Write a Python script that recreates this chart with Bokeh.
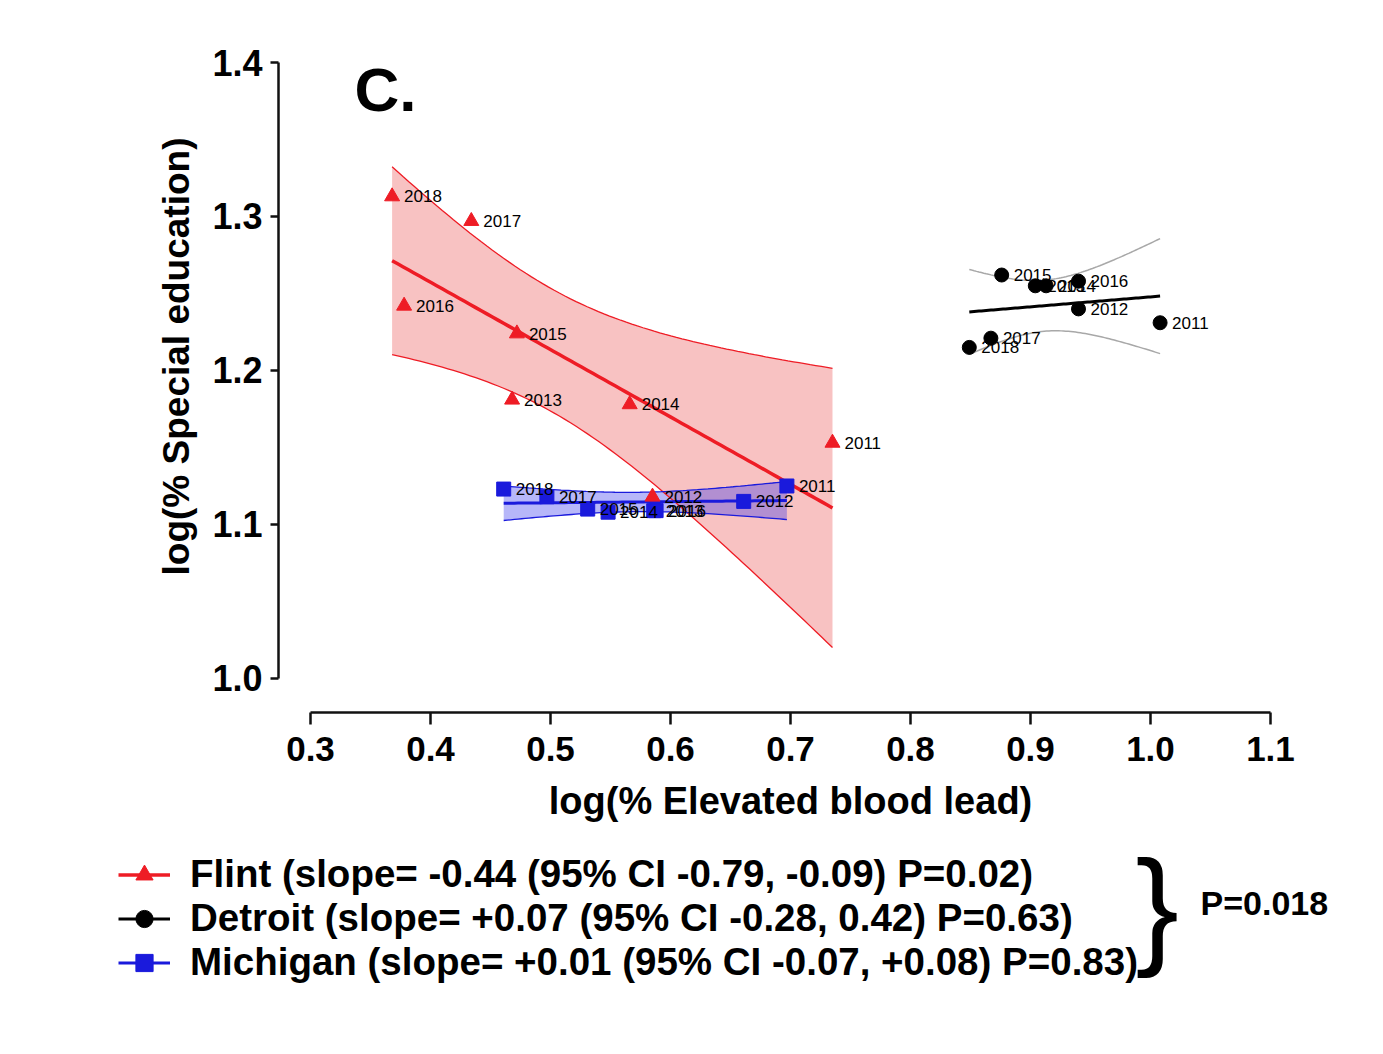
import numpy as np
from bokeh.plotting import figure
from bokeh.layouts import column
from bokeh.models import (Range1d, FixedTicker, NumeralTickFormatter, Label,
                          Legend, LegendItem)
from bokeh.core.properties import value
from bokeh.embed import file_html
from bokeh.resources import INLINE

# ---------------- data ----------------
years = ["2011", "2012", "2013", "2014", "2015", "2016", "2017", "2018"]

flint_x = [0.735, 0.585, 0.468, 0.566, 0.472, 0.378, 0.434, 0.368]
flint_y = [1.153, 1.118, 1.181, 1.178, 1.224, 1.242, 1.297, 1.313]

detroit_x = [1.008, 0.940, 0.904, 0.913, 0.876, 0.940, 0.867, 0.849]
detroit_y = [1.231, 1.240, 1.255, 1.255, 1.262, 1.258, 1.221, 1.215]

michigan_x = [0.697, 0.661, 0.586, 0.548, 0.531, 0.588, 0.497, 0.461]
michigan_y = [1.125, 1.115, 1.109, 1.108, 1.110, 1.109, 1.118, 1.123]

x_ticks = [0.3, 0.4, 0.5, 0.6, 0.7, 0.8, 0.9, 1.0, 1.1]
y_ticks = [1.0, 1.1, 1.2, 1.3, 1.4]

legend_labels = [
    "Flint (slope= -0.44 (95% CI -0.79, -0.09) P=0.02)",
    "Detroit (slope= +0.07 (95% CI -0.28, 0.42) P=0.63)",
    "Michigan (slope= +0.01 (95% CI -0.07, +0.08) P=0.83)",
]
panel_letter = "C."
diff_p = "P=0.018"
T_975_DF6 = 2.447


def fit_band(x, y, n=80):
    x = np.asarray(x, float)
    y = np.asarray(y, float)
    b, a = np.polyfit(x, y, 1)
    xs = np.linspace(x.min(), x.max(), n)
    yhat = a + b * xs
    res = y - (a + b * x)
    s = np.sqrt(np.sum(res ** 2) / (len(x) - 2))
    se = s * np.sqrt(1.0 / len(x) + (xs - x.mean()) ** 2 / np.sum((x - x.mean()) ** 2))
    return xs, yhat, yhat - T_975_DF6 * se, yhat + T_975_DF6 * se


FONT = "Liberation Sans"
RED = "#ee1c25"
BLUE = "#1a1adc"

p = figure(frame_width=1024, frame_height=712,
           min_border_left=278, min_border_right=73,
           min_border_top=0, min_border_bottom=116,
           x_range=Range1d(0.27333, 1.12667), y_range=Range1d(0.97792, 1.44026),
           output_backend="svg", toolbar_location=None)
p.frame_align = False
p.outline_line_color = None
p.background_fill_color = "white"
p.border_fill_color = "white"
p.xgrid.visible = False
p.ygrid.visible = False

# axes
xa = p.xaxis[0]
xa.bounds = (0.3, 1.1)
xa.ticker = FixedTicker(ticks=x_ticks)
xa.formatter = NumeralTickFormatter(format="0.0")
xa.axis_label = "log(% Elevated blood lead)"
ya = p.yaxis[0]
ya.bounds = (1.0, 1.4)
ya.ticker = FixedTicker(ticks=y_ticks)
ya.formatter = NumeralTickFormatter(format="0.0")
ya.axis_label = "log(% Special education)"
for ax in (xa, ya):
    ax.minor_tick_line_color = None
    ax.axis_line_width = 2.5
    ax.major_tick_line_width = 2.5
    ax.axis_line_color = "#111111"
    ax.major_tick_line_color = "#111111"
    ax.major_tick_in = 0
    ax.major_label_text_font = FONT
    ax.major_label_text_font_style = "bold"
    ax.major_label_text_color = "black"
    ax.axis_label_text_font = FONT
    ax.axis_label_text_font_style = "bold"
    ax.axis_label_text_color = "black"
xa.axis_label_text_font_size = "38px"
ya.axis_label_text_font_size = "37px"
xa.major_tick_out = 12
xa.major_label_standoff = 12
xa.major_label_text_font_size = "35px"
xa.axis_label_standoff = 16
ya.major_tick_out = 8
ya.major_label_standoff = 8
ya.major_label_text_font_size = "36px"
ya.axis_label_standoff = 12

# bands
fx, fyh, flo, fhi = fit_band(flint_x, flint_y)
dx, dyh, dlo, dhi = fit_band(detroit_x, detroit_y)
mx, myh, mlo, mhi = fit_band(michigan_x, michigan_y)

p.varea(x=fx, y1=flo, y2=fhi, fill_color="#f49a9a", fill_alpha=0.6)
p.varea(x=mx, y1=mlo, y2=mhi, fill_color="#3030ee", fill_alpha=0.35)
for yy in (flo, fhi):
    p.line(fx, yy, line_color=RED, line_width=1.3)
for yy in (mlo, mhi):
    p.line(mx, yy, line_color=BLUE, line_width=1.3)
for yy in (dlo, dhi):
    p.line(dx, yy, line_color="#a8a8a8", line_width=1.5)

p.line(mx, myh, line_color=BLUE, line_width=3)
p.line(dx, dyh, line_color="black", line_width=3)
p.line(fx, fyh, line_color=RED, line_width=3.5)

p.scatter(michigan_x, michigan_y, marker="square", size=14,
          fill_color=BLUE, line_color=BLUE)
p.scatter(detroit_x, detroit_y, marker="circle", size=14,
          fill_color="black", line_color="black")
p.scatter(flint_x, flint_y, marker="triangle", size=15,
          fill_color=RED, line_color=RED)

for xs_, ys_ in ((michigan_x, michigan_y), (detroit_x, detroit_y), (flint_x, flint_y)):
    p.text(x=xs_, y=ys_, text=years, x_offset=12, text_baseline="middle",
           text_font=value(FONT), text_font_size="17px", text_color="black")

# panel letter
p.add_layout(Label(x=0.3367, y=1.3825, text=panel_letter, text_font=FONT,
                   text_font_style="bold", text_font_size="62px",
                   text_color="black", text_baseline="middle"))

# ---------------- legend area (pixel-coordinate panel) ----------------
H2 = 202
p2 = figure(width=1375, height=H2, x_range=Range1d(0, 1375), y_range=Range1d(H2, 0),
            min_border=0, x_axis_type=None, y_axis_type=None,
            output_backend="svg", toolbar_location=None)
p2.frame_align = False
p2.outline_line_color = None
p2.grid.visible = False
p2.background_fill_color = "white"
p2.border_fill_color = "white"

# legend keys (styled like the series; no visible data of their own)
nan = [np.nan]
kf_line = p2.line(nan, nan, line_color=RED, line_width=3.5)
kf_pts = p2.scatter(nan, nan, marker="triangle", size=15, fill_color=RED, line_color=RED)
kd_line = p2.line(nan, nan, line_color="black", line_width=3)
kd_pts = p2.scatter(nan, nan, marker="circle", size=14, fill_color="black", line_color="black")
km_line = p2.line(nan, nan, line_color=BLUE, line_width=3)
km_pts = p2.scatter(nan, nan, marker="square", size=14, fill_color=BLUE, line_color=BLUE)

legend = Legend(items=[
    LegendItem(label=legend_labels[0], renderers=[kf_line, kf_pts]),
    LegendItem(label=legend_labels[1], renderers=[kd_line, kd_pts]),
    LegendItem(label=legend_labels[2], renderers=[km_line, km_pts]),
], location=(118, 46), orientation="vertical", padding=0, margin=0,
    spacing=0, glyph_width=52, glyph_height=43, label_height=43,
    label_standoff=20, border_line_color=None, background_fill_alpha=0,
    label_text_font=FONT, label_text_font_style="bold",
    label_text_font_size="38.5px", label_text_color="black")
p2.add_layout(legend)

p2.add_layout(Label(x=1135, y=77, text="}", text_font=FONT,
                    text_font_size="130px", text_color="black",
                    text_baseline="middle"))
p2.add_layout(Label(x=1200, y=74, text=diff_p, text_font=FONT,
                    text_font_style="bold", text_font_size="34px",
                    text_color="black", text_baseline="middle"))

layout = column(p, p2, spacing=0)
open("out.html", "w").write(file_html(layout, INLINE))
